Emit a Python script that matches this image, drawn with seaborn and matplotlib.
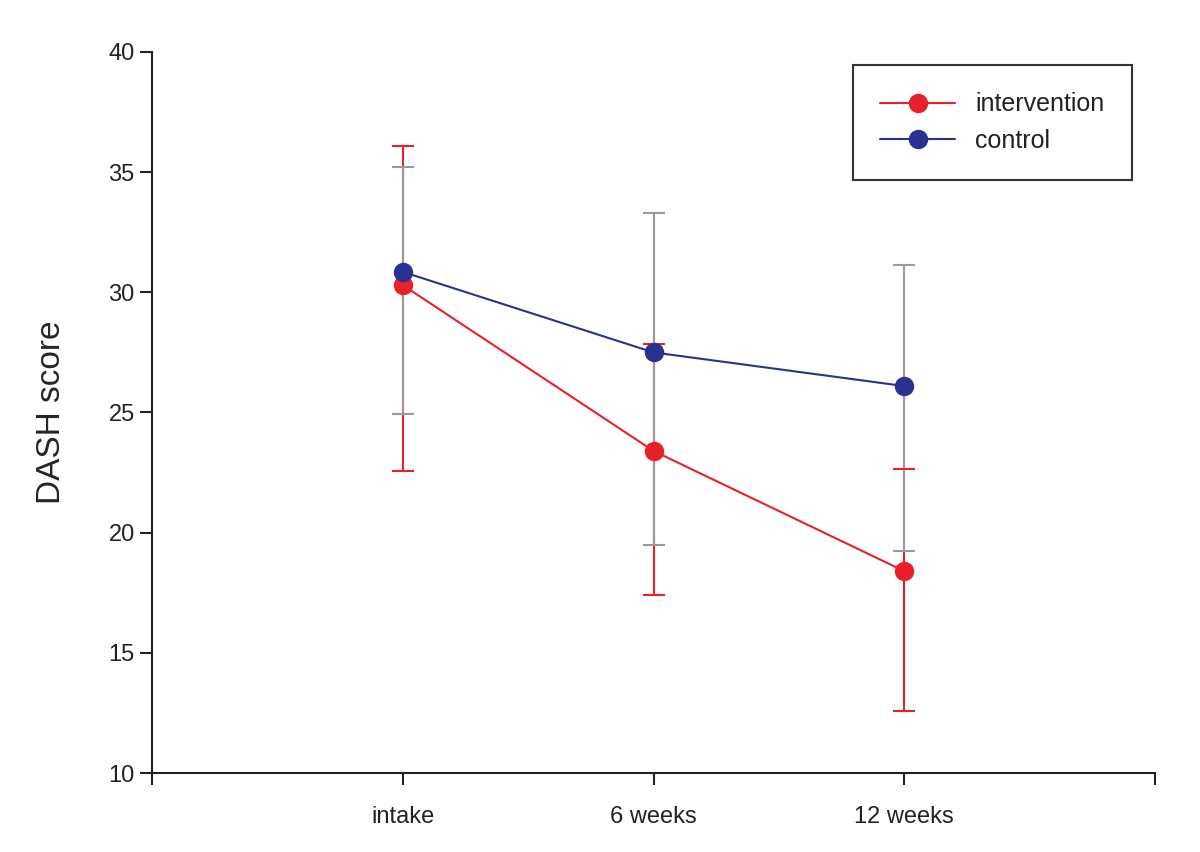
import matplotlib
matplotlib.use("Agg")
import matplotlib.pyplot as plt
import numpy as np
import pandas as pd
import seaborn as sns

timepoints = ["intake", "6 weeks", "12 weeks"]
time_pos = [1, 2, 3]

intervention_mean = [30.3, 23.4, 18.4]
intervention_upper = [36.1, 27.85, 22.65]
intervention_lower = [22.55, 17.4, 12.6]

control_mean = [30.85, 27.5, 26.1]
control_upper = [35.2, 33.3, 31.15]
control_lower = [24.95, 19.5, 19.25]

RED = "#e8202a"
BLUE = "#2b3190"
GREY = "#9a9a9a"

sns.set_style("ticks")
plt.rcParams["font.family"] = ["Liberation Sans", "DejaVu Sans"]

df = pd.DataFrame({
    "time": time_pos * 2,
    "score": intervention_mean + control_mean,
    "group": ["intervention"] * 3 + ["control"] * 3,
})

fig = plt.figure(figsize=(12, 8.52), dpi=100)
ax = fig.add_axes([0.1267, 0.0927, 0.8358, 0.8463])

# error bars (red first, grey on top)
imean = np.array(intervention_mean)
ax.errorbar(time_pos, imean,
            yerr=[imean - np.array(intervention_lower), np.array(intervention_upper) - imean],
            fmt="none", ecolor=RED, elinewidth=1.5, capsize=8, capthick=1.5, zorder=2)
cmean = np.array(control_mean)
ax.errorbar(time_pos, cmean,
            yerr=[cmean - np.array(control_lower), np.array(control_upper) - cmean],
            fmt="none", ecolor=GREY, elinewidth=1.5, capsize=8, capthick=1.5, zorder=3)

sns.lineplot(data=df, x="time", y="score", hue="group",
             palette={"intervention": RED, "control": BLUE},
             marker="o", markersize=14, markeredgewidth=0, linewidth=1.5,
             ax=ax, zorder=4)
for ln in ax.lines:
    ln.set_zorder(4)

ax.set_xlim(0, 4)
ax.set_ylim(10, 40)
ax.set_xticks([0, 1, 2, 3, 4])
ax.set_xticklabels([""] + timepoints + [""])
ax.set_yticks([10, 15, 20, 25, 30, 35, 40])
ax.tick_params(axis="both", direction="out", length=8.5, width=1.5, labelsize=17,
               colors="#222222")
ax.tick_params(axis="y", pad=4)
ax.tick_params(axis="x", pad=15)
ax.set_xlabel("")
ax.set_ylabel("DASH score", fontsize=24, labelpad=30)
for s in ["top", "right"]:
    ax.spines[s].set_visible(False)
for s in ["left", "bottom"]:
    ax.spines[s].set_linewidth(1.5)
    ax.spines[s].set_color("#222222")

leg = ax.legend(loc="upper right", bbox_to_anchor=(0.977, 0.982), fontsize=18,
                frameon=True, fancybox=False, edgecolor="black",
                borderpad=1.1, handlelength=3.0, labelspacing=0.5, handletextpad=0.8,
                borderaxespad=0)
leg.get_frame().set_linewidth(1.5)
for t in leg.get_texts():
    t.set_color("#222222")

fig.savefig("out.png", dpi=100)
